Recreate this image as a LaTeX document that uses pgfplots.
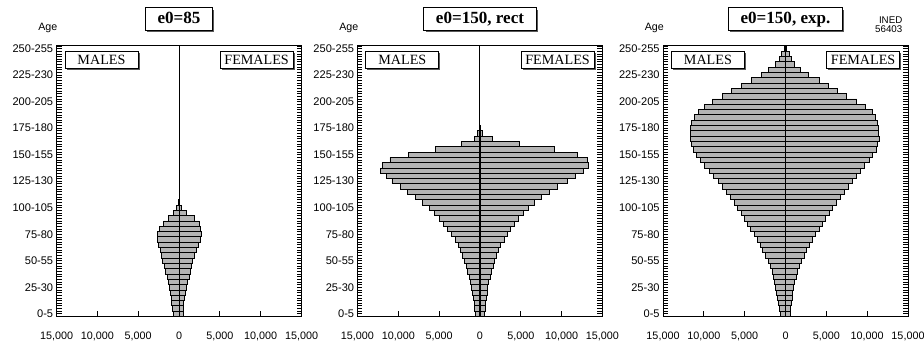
\documentclass[border=0pt]{standalone}
\usepackage{fontspec}
\setmainfont{Liberation Serif}
\setsansfont{Liberation Sans}
\usepackage{pgfplots}
\pgfplotsset{compat=1.18}
\usepackage{pgfplotstable}
\usetikzlibrary{shadows,calc}

\definecolor{bargray}{RGB}{180,180,180}

% age = lower bound of the 5-year group, m = males, f = females
\pgfplotstableread{
age m f
0 650 480
5 800 540
10 880 580
15 960 660
20 1050 790
25 1180 950
30 1300 1070
35 1460 1280
40 1620 1360
45 1830 1520
50 2030 1680
55 2150 1850
60 2320 2090
65 2560 2380
70 2650 2660
75 2650 2780
80 2410 2650
85 1920 2450
90 1310 1840
95 690 940
100 290 290
105 100 100
}\tabA

\pgfplotstableread{
age m f
0 570 570
5 650 650
10 730 730
15 810 810
20 890 890
25 1010 970
30 1130 1090
35 1300 1300
40 1500 1420
45 1660 1620
50 1900 1780
55 2150 1980
60 2430 2230
65 2670 2550
70 3040 2960
75 3480 3360
80 3970 3730
85 4460 4190
90 4940 4700
95 5590 5310
100 6200 5950
105 7090 6680
110 7860 7570
115 8830 8470
120 9760 9480
125 10780 10650
130 11500 11750
135 12150 12720
140 11990 13250
145 11020 13160
150 8710 11950
155 5430 9070
160 2270 4820
165 730 1500
170 300 300
175 100 100
}\tabB

\pgfplotstableread{
age m f
0 570 570
5 770 650
10 850 730
15 940 810
20 1060 890
25 1220 980
30 1300 1140
35 1460 1300
40 1630 1460
45 1830 1750
50 2030 1950
55 2400 2280
60 2770 2560
65 3010 2890
70 3380 3290
75 3780 3660
80 4270 4150
85 4640 4530
90 5000 4880
95 5410 5370
100 5890 5770
105 6300 6180
110 6710 6710
115 7200 7200
120 7720 7680
125 8250 8210
130 8860 8700
135 9350 9190
140 9880 9670
145 10370 10240
150 10850 10690
155 11260 11100
160 11460 11300
165 11590 11460
170 11670 11420
175 11590 11380
180 11460 11260
185 11180 10980
190 10690 10650
195 9880 9840
200 8940 8740
205 7720 7520
210 6590 6300
215 5410 5280
220 4190 4150
225 2970 2850
230 2030 1830
235 1220 1140
240 730 730
245 490 490
250 150 150
}\tabC

\pgfplotsset{
  pyr/.style={
    anchor=south west, scale only axis,
    width=183.75pt, height=202.9pt,
    xmin=-15000, xmax=15000, ymin=0, ymax=255,
    clip=false,
    scaled x ticks=false,
    xtick={-15000,-10000,-5000,0,5000,10000,15000},
    xticklabels={{15,000},{10,000},{5,000},0,{5,000},{10,000},{15,000}},
    ytick={0,25,...,250},
    yticklabels={0-5,25-30,50-55,75-80,100-105,125-130,150-155,175-180,200-205,225-230,250-255},
    minor ytick={0,2.5,...,255},
    xtick pos=left,
    tick align=inside,
    major tick length=3.75pt, minor tick length=3.75pt,
    tick style={black, line width=0.55pt},
    axis line style={line width=0.75pt},
    yticklabel style={font=\fontsize{8.3}{9}\selectfont\sffamily, yshift=2pt, xshift=1pt},
    xticklabel style={font=\fontsize{8.1}{9}\selectfont\sffamily, yshift=-8pt},
  },
  bars/.style={xbar, bar shift=0pt, bar width=5, fill=bargray, draw=black, line width=0.65pt},
}
\tikzset{
  titlebox/.style={draw, fill=white, line width=0.75pt, inner xsep=9pt, inner ysep=3.2pt,
    text height=9pt, text depth=1.5pt, font=\fontsize{12.8}{14}\selectfont\bfseries,
    drop shadow={shadow xshift=1.4pt, shadow yshift=-1.4pt, fill=black!65, opacity=1}},
  sexbox/.style={draw, fill=white, line width=0.6pt, minimum width=54.75pt, minimum height=13pt,
    inner sep=0pt, font=\fontsize{10.6}{12}\selectfont,
    drop shadow={shadow xshift=1.2pt, shadow yshift=-1.2pt, fill=black!65, opacity=1}},
}

\newcommand{\decor}[1]{%
  \node[titlebox] at ($(rel axis cs:0.5,1)+(0pt,20.25pt)$) {#1};
  \node[sexbox, anchor=north west] at ($(rel axis cs:0,1)+(6pt,-3.75pt)$) {MALES};
  \node[sexbox, anchor=north east] at ($(rel axis cs:1,1)+(-6pt,-3.75pt)$) {FEMALES};
  \node[font=\fontsize{8}{9}\selectfont\sffamily] at ($(rel axis cs:0,1)+(-6.5pt,13.5pt)$) {Age};
}

\begin{document}
\begin{tikzpicture}
\useasboundingbox (0,0) rectangle (693pt,260.25pt);

\begin{axis}[pyr, at={(42.4pt,22.9pt)}]
  \addplot[bars] table[x expr=-\thisrow{m}, y expr=\thisrow{age}+2.5] {\tabA};
  \addplot[bars] table[x=f, y expr=\thisrow{age}+2.5] {\tabA};
  \addplot[black, line width=0.75pt] coordinates {(0,0) (0,255)};
  \decor{e0=85}
\end{axis}

\begin{axis}[pyr, at={(268.1pt,22.9pt)}]
  \addplot[bars] table[x expr=-\thisrow{m}, y expr=\thisrow{age}+2.5] {\tabB};
  \addplot[bars] table[x=f, y expr=\thisrow{age}+2.5] {\tabB};
  \addplot[black, line width=0.75pt] coordinates {(0,0) (0,255)};
  \decor{e0=150, rect}
\end{axis}

\begin{axis}[pyr, at={(497.25pt,22.9pt)}]
  \addplot[bars] table[x expr=-\thisrow{m}, y expr=\thisrow{age}+2.5] {\tabC};
  \addplot[bars] table[x=f, y expr=\thisrow{age}+2.5] {\tabC};
  \addplot[black, line width=0.75pt] coordinates {(0,0) (0,255)};
  \decor{e0=150, exp.}
  \node[anchor=east, align=right, font=\fontsize{7.3}{6.6}\selectfont\sffamily]
    at ($(rel axis cs:1,1)+(-0.75pt,15.75pt)$) {INED\\56403};
\end{axis}
\end{tikzpicture}
\end{document}
